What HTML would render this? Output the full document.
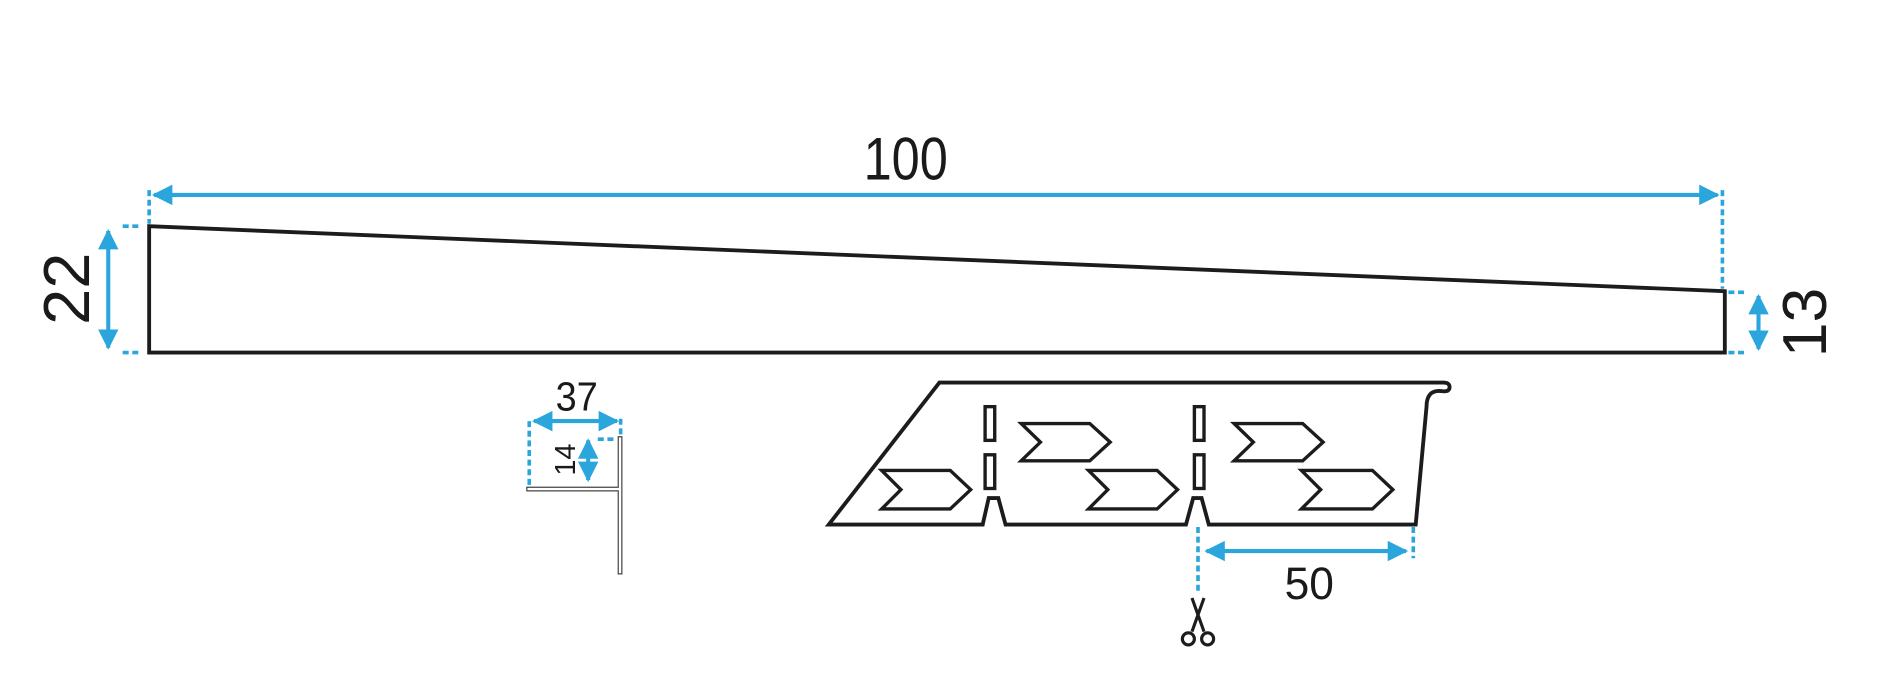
<!DOCTYPE html>
<html><head><meta charset="utf-8"><style>html,body{margin:0;padding:0;background:#fff}svg{display:block}</style></head>
<body>
<svg width="1886" height="687" viewBox="0 0 1568 571" preserveAspectRatio="none" xmlns="http://www.w3.org/2000/svg" font-family="Liberation Sans, sans-serif">
<defs>
<marker id="a" viewBox="0 0 10 10" refX="9" refY="5" markerWidth="5" markerHeight="5" orient="auto-start-reverse"><path d="M0,0 L10,5 L0,10 z" fill="#2aa6dc"/></marker>
</defs>
<g fill="none" stroke="#1c1c1c" stroke-width="3.2" stroke-linejoin="miter">
<path d="M124,188 L1434,242 L1434,293 L124,293 Z"/>
</g>
<g stroke="#2aa6dc" stroke-width="3.4" fill="none">
<line x1="128" y1="162" x2="1428" y2="162" marker-start="url(#a)" marker-end="url(#a)"/>
<line x1="90" y1="192" x2="90" y2="289" marker-start="url(#a)" marker-end="url(#a)"/>
<line x1="1462" y1="246" x2="1462" y2="290" marker-start="url(#a)" marker-end="url(#a)"/>
<line x1="444" y1="350" x2="513" y2="350" marker-start="url(#a)" marker-end="url(#a)"/>
<line x1="489" y1="366" x2="489" y2="399" marker-start="url(#a)" marker-end="url(#a)"/>
<line x1="1003" y1="458" x2="1169" y2="458" marker-start="url(#a)" marker-end="url(#a)"/>
<g stroke-dasharray="5,3" stroke-width="3">
<line x1="124" y1="158" x2="124" y2="186"/>
<line x1="1432" y1="158" x2="1432" y2="240"/>
<line x1="102" y1="188" x2="118" y2="188"/>
<line x1="102" y1="293" x2="118" y2="293"/>
<line x1="1437" y1="243" x2="1452" y2="243"/>
<line x1="1437" y1="293" x2="1452" y2="293"/>
<line x1="440" y1="350" x2="440" y2="404"/>
<line x1="516" y1="348" x2="516" y2="362"/>
<line x1="497" y1="365" x2="512" y2="365"/>
<line x1="996" y1="438" x2="996" y2="492"/>
<line x1="1175" y1="438" x2="1175" y2="464"/>
</g>
</g>
<g fill="none" stroke="#444" stroke-width="1">
<path d="M438,405 L514,405 L514,363 L517,363 L517,477 L514,477 L514,408 L438,408 Z"/>
</g>
<g fill="none" stroke="#1c1c1c" stroke-width="3.2" stroke-linejoin="miter">
<path d="M781,318 L1200,318 Q1206,318 1205,323 Q1204,326 1198,325 Q1186,324 1186,338 L1177,436 L1005,436 L999,414 L992,414 L986,436 L836,436 L830,414 L822,414 L817,436 L689,436 Z"/>
<g stroke-width="2.8">
<rect x="819" y="338" width="8" height="28"/>
<rect x="819" y="378" width="8" height="28"/>
<rect x="993" y="338" width="8" height="28"/>
<rect x="993" y="378" width="8" height="28"/>
<path d="M849,352 h57 l17,15.5 l-17,15.5 h-57 l16,-15.5 z"/>
<path d="M1026,352 h57 l17,15.5 l-17,15.5 h-57 l16,-15.5 z"/>
<path d="M733,391 h57 l17,16 l-17,16 h-57 l16,-16 z"/>
<path d="M905,391 h57 l17,16 l-17,16 h-57 l16,-16 z"/>
<path d="M1082,391 h59 l17,16 l-17,16 h-59 l16,-16 z"/>
</g>
</g>
<g fill="none" stroke="#1c1c1c" stroke-width="2.6">
<line x1="991" y1="497" x2="1001" y2="525"/>
<line x1="1001" y1="497" x2="991" y2="525"/>
<circle cx="988" cy="531" r="5"/>
<circle cx="1004" cy="531" r="5"/>
</g>
<g fill="#1a1a1a">
<text x="718" y="149" font-size="50" textLength="70" lengthAdjust="spacingAndGlyphs">100</text>
<text transform="translate(74,240) rotate(-90)" text-anchor="middle" font-size="54">22</text>
<text transform="translate(1518,268) rotate(-90)" text-anchor="middle" font-size="52">13</text>
<text x="462" y="341" font-size="34" textLength="35" lengthAdjust="spacingAndGlyphs">37</text>
<text transform="translate(478,382) rotate(-90)" text-anchor="middle" font-size="24">14</text>
<text x="1068" y="498" font-size="38" textLength="41" lengthAdjust="spacingAndGlyphs">50</text>
</g>
</svg>
</body></html>
